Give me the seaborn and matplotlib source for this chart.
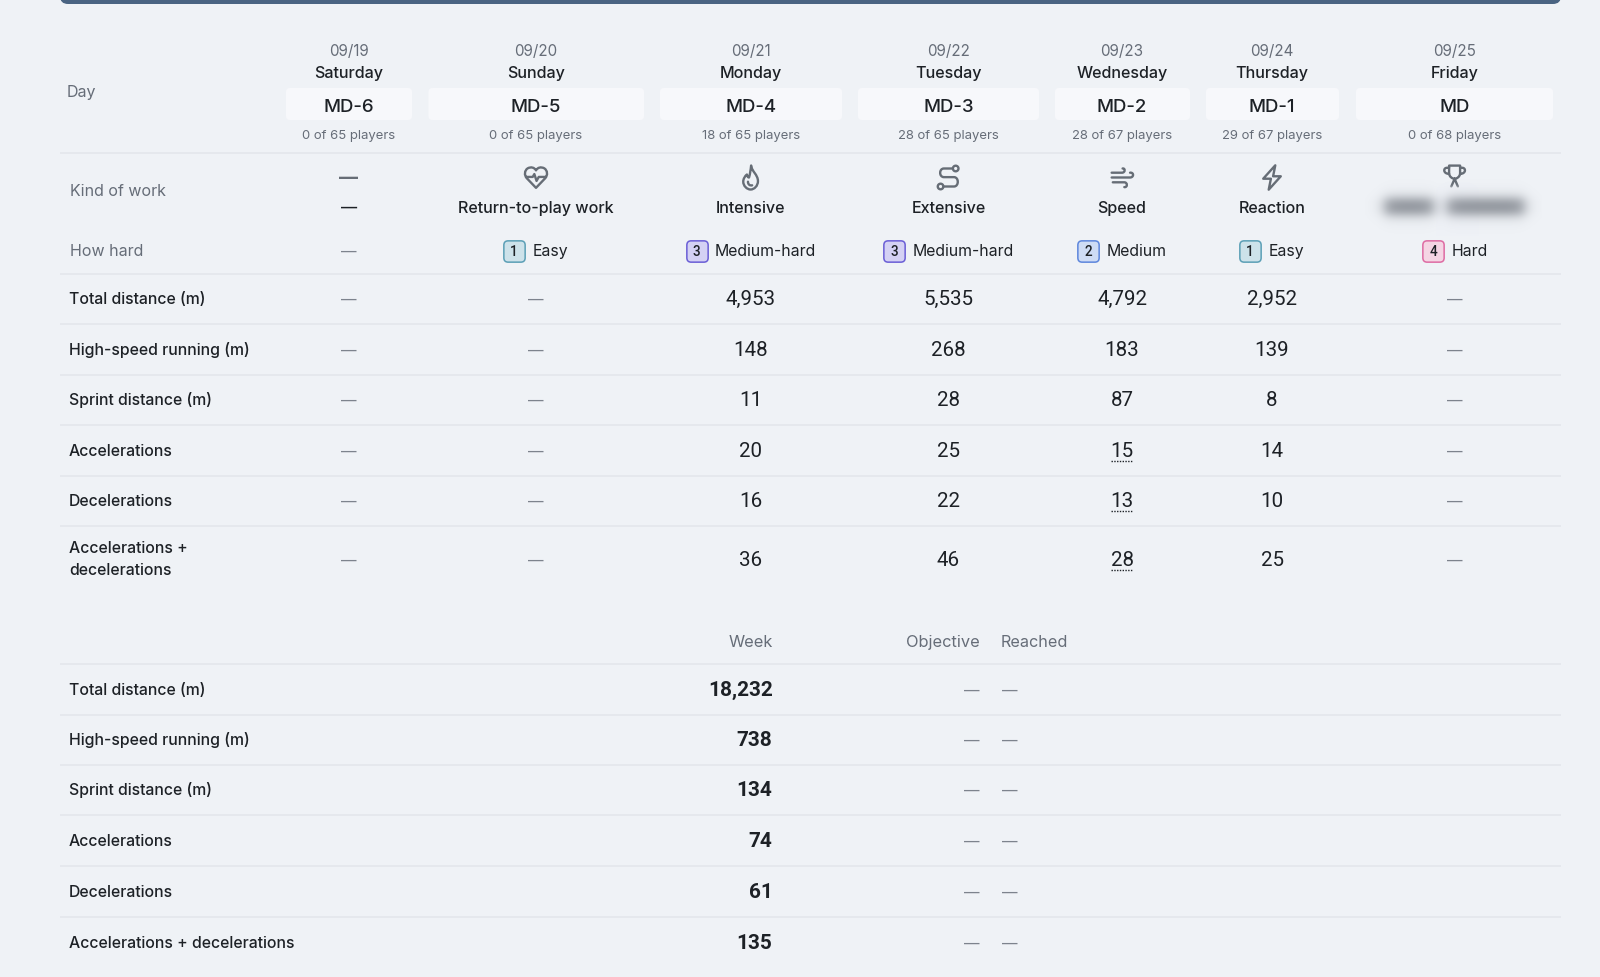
import numpy as np
import matplotlib.pyplot as plt
import seaborn as sns
from matplotlib.patches import FancyBboxPatch, PathPatch, Circle
from matplotlib.path import Path
from matplotlib.transforms import Affine2D

# Data
dates = ['09/19', '09/20', '09/21', '09/22', '09/23', '09/24', '09/25']
weekdays = ['Saturday', 'Sunday', 'Monday', 'Tuesday', 'Wednesday', 'Thursday', 'Friday']
md_labels = ['MD-6', 'MD-5', 'MD-4', 'MD-3', 'MD-2', 'MD-1', 'MD']
players_in = [0, 0, 18, 28, 28, 29, 0]
players_all = [65, 65, 65, 65, 67, 67, 68]
work_kinds = ['—', 'Return-to-play work', 'Intensive', 'Extensive', 'Speed', 'Reaction', None]
hard_levels = [None, 1, 3, 3, 2, 1, 4]
hard_names = ['—', 'Easy', 'Medium-hard', 'Medium-hard', 'Medium', 'Easy', 'Hard']

metric_names = ['Total distance (m)', 'High-speed running (m)', 'Sprint distance (m)',
                'Accelerations', 'Decelerations', 'Accelerations +\ndecelerations']
total_distance = [None, None, 4953, 5535, 4792, 2952, None]
high_speed = [None, None, 148, 268, 183, 139, None]
sprint_distance = [None, None, 11, 28, 87, 8, None]
accelerations = [None, None, 20, 25, 15, 14, None]
decelerations = [None, None, 16, 22, 13, 10, None]
acc_dec = [None, None, 36, 46, 28, 25, None]

week_names = ['Total distance (m)', 'High-speed running (m)', 'Sprint distance (m)',
              'Accelerations', 'Decelerations', 'Accelerations + decelerations']
week_totals = [18232, 738, 134, 74, 61, 135]

# Layout, in pixels of the screenshot
BG = '#eff2f6'
RULE = '#e3e6eb'
DARK = '#1d2126'
GREY = '#666d78'
DASH = '#7d838d'
ICON = '#666d76'
NUM_FONT = ['Roboto', 'Inter', 'DejaVu Sans']
col_x = [348.6, 536, 750.6, 948.4, 1122, 1272, 1454.6]
pills = [(286, 412), (428.5, 644), (660, 842), (858, 1039), (1055, 1190), (1206, 1339), (1356, 1553)]
metric_y = [298, 349, 399, 450, 500, 559]
week_y = [689, 739.5, 789.5, 840, 891, 942]
rules_y = [152.5, 273.5, 323.5, 374.5, 424.5, 475.5, 525.5, 663.5, 714.5, 764.5, 815, 866, 916.5]
badge_x = [None, 514, 696.5, 894, 1088, 1250, 1433]
badge_text_x = [None, 533, 715, 913, 1107, 1269, 1452]
level_fill = {1: '#cde2ea', 2: '#cedcf5', 3: '#d4d1f4', 4: '#f5d5e4'}
level_edge = {1: '#5b9fb6', 2: '#5d86dc', 3: '#6a5ed6', 4: '#de6ba3'}

sns.set_theme(style='white')
plt.rcParams['font.family'] = ['Inter', 'DejaVu Sans']

fig, ax = plt.subplots(figsize=(16, 9.77), dpi=100)
fig.patch.set_facecolor(BG)
ax.set_position([0, 0, 1, 1])
ax.set_facecolor(BG)
ax.set_xlim(0, 1600)
ax.set_ylim(977, 0)
ax.set_xticks([])
ax.set_yticks([])
sns.despine(ax=ax, left=True, bottom=True)


def label(x, y, s, size, color=DARK, ha='center', weight='normal', **kw):
    # size is in pixels, y is the middle of the capital letters
    return ax.text(x, y + size * 0.36, s, fontsize=size * 0.72, color=color, ha=ha, va='baseline',
                   fontweight=weight, **kw)


def svg_path(spec):
    verts, codes = [], []
    parts = spec.split()
    i = 0
    while i < len(parts):
        cmd = parts[i]
        i += 1
        if cmd == 'Z':
            verts.append(verts[-1])
            codes.append(Path.CLOSEPOLY)
        elif cmd in 'ML':
            verts.append((float(parts[i]), float(parts[i + 1])))
            codes.append(Path.MOVETO if cmd == 'M' else Path.LINETO)
            i += 2
        else:
            for k in range(3):
                verts.append((float(parts[i]), float(parts[i + 1])))
                codes.append(Path.CURVE4)
                i += 2
    return Path(verts, codes)


def icon(cx, cy, spec, sx=1.05, sy=1.05, circles=()):
    tr = Affine2D().translate(-12, -12).scale(sx, sy).translate(cx, cy)
    ax.add_patch(PathPatch(tr.transform_path(svg_path(spec)), fill=False, ec=ICON, lw=1.7,
                           capstyle='round', joinstyle='round', zorder=3))
    for (a, b, r) in circles:
        ax.add_patch(Circle(tr.transform_point((a, b)), r * sx, fill=False, ec=ICON, lw=1.7, zorder=3))


def rounded_square():
    box = FancyBboxPatch((-0.5, -0.5), 1, 1, boxstyle='round,pad=0,rounding_size=0.2')
    return box.get_path()


# Top bar
ax.add_patch(FancyBboxPatch((60, -20), 1501, 24, boxstyle='round,pad=0,rounding_size=8',
                            fc='#4a6482', ec='none'))

# Rules
ax.hlines(rules_y, 60, 1561, color=RULE, lw=1.1)

# Header block
label(67, 91, 'Day', 16, GREY, ha='left')
for i, x in enumerate(col_x):
    label(x, 51, dates[i], 15.2, GREY)
    label(x, 72, weekdays[i], 16.1, DARK, weight='medium')
    a, b = pills[i]
    ax.add_patch(FancyBboxPatch((a, 88), b - a, 32, boxstyle='round,pad=0,rounding_size=4',
                                fc='#f7f8fb', ec='none'))
    label(x, 105, md_labels[i], 18.7, DARK, weight='medium')
    label(x, 134, f'{players_in[i]} of {players_all[i]} players', 13.1, GREY)

# Kind of work
label(69.5, 190, 'Kind of work', 16, GREY, ha='left')
label(69.5, 250.5, 'How hard', 16, GREY, ha='left')
for i, x in enumerate(col_x):
    if work_kinds[i] is not None:
        label(x, 207, work_kinds[i], 16.1, DARK, weight='medium')

label(col_x[0], 177, '—', 19, ICON, weight='bold')
icon(col_x[1], 177.5,
     'M 12 21 L 3.8 12.8 C 1 10 1.5 5.8 4.5 4 C 7.5 2.5 10.5 3.2 12 5.8 C 13.5 3.2 16.5 2.5 19.5 4 '
     'C 22.5 5.8 23 10 20.2 12.8 Z M 3 11.5 L 9 11.5 L 10.5 9 L 12.5 15 L 14.5 11.5 L 21 11.5',
     sx=1.1, sy=1.15)
icon(col_x[2], 177.5,
     'M 12.5 2 C 13 7 19 9.5 19 15 C 19 19 15.5 22 12 22 C 8.5 22 5 19 5 15.5 '
     'C 5 13 6.5 11 8.5 9.5 C 8.8 11 9.5 12 10.5 12 C 11.5 9 12 6 12.5 2 Z '
     'M 9.5 15.5 C 9.5 18 11.5 19 13.5 18.5', sx=1.05, sy=1.2)
icon(col_x[3], 177.5,
     'M 16 4.5 L 8 4.5 C 3.5 4.5 3.5 11.7 8 11.7 L 17 11.7 C 21.5 11.7 21.5 19.5 17 19.5 L 7.5 19.5',
     sx=1.12, sy=1.2, circles=[(18.5, 4.5, 2.5), (5, 19.5, 2.5)])
icon(col_x[4], 177.5,
     'M 3 8 L 12 8 C 15 8 15 4 12.5 4.5 M 3 12 L 19 12 C 22.5 12 22.5 7.5 19 8 '
     'M 4 16 L 14 16 C 17 16 17 20.5 14 20', sx=1.15, sy=1.2)
icon(col_x[5], 177.5, 'M 15 2 L 4 13 L 11 13 L 9 22 L 20 11 L 13 11 Z', sx=1.1, sy=1.22)
icon(col_x[6], 175.5,
     'M 7 3 L 17 3 L 17 10 C 17 13 14 15 12 15 C 10 15 7 13 7 10 Z M 7 5 L 5 5 C 1.5 5 1.5 10.5 7 10.5 '
     'M 17 5 L 19 5 C 22.5 5 22.5 10.5 17 10.5 M 12 15 L 9 22 M 12 15 L 15 22', sx=1.1, sy=1.1)

# Blurred label in the last column
grid_x, grid_y = np.meshgrid(np.arange(1365, 1542), np.arange(178, 236))
smooth = lambda v, a, b, w: 0.5 * (np.tanh((v - a) / w) - np.tanh((v - b) / w))
band = smooth(grid_y, 198, 214, 7)
blob = (smooth(grid_x, 1384, 1433, 8) + smooth(grid_x, 1447, 1524, 8)) * band
blur = np.zeros(grid_x.shape + (4,))
blur[..., :3] = np.array([0.52, 0.54, 0.57])
blur[..., 3] = blob
veil = np.zeros(grid_x.shape + (4,))
veil[..., :3] = np.array([0.937, 0.949, 0.965])
veil[..., 3] = smooth(grid_y, 187, 240, 2) * smooth(grid_x, 1444, 1470, 3)
ax.imshow(veil, extent=(1365, 1542, 236, 178), aspect='auto', zorder=4, interpolation='bilinear')
ax.imshow(blur, extent=(1365, 1542, 236, 178), aspect='auto', zorder=5, interpolation='bilinear')
ax.set_xlim(0, 1600)
ax.set_ylim(977, 0)

# How hard, badges drawn from the levels
marker = rounded_square()
for level in sorted(set(v for v in hard_levels if v is not None)):
    xs = [badge_x[i] for i, v in enumerate(hard_levels) if v == level]
    sns.scatterplot(x=xs, y=[251] * len(xs), ax=ax, marker=marker, s=235, color=level_fill[level],
                    edgecolor=level_edge[level], linewidth=1.1, legend=False, zorder=3)
for i, x in enumerate(col_x):
    if hard_levels[i] is None:
        label(x, 251.5, hard_names[i], 15.5, DASH)
    else:
        label(badge_x[i], 251, str(hard_levels[i]), 13.5, DARK, weight='medium', zorder=6, family=NUM_FONT)
        label(badge_text_x[i], 250.5, hard_names[i], 15.8, DARK, ha='left')

# Daily metrics
metric_rows = [total_distance, high_speed, sprint_distance, accelerations, decelerations, acc_dec]
underlined = {(3, 4), (4, 4), (5, 4)}
for r, row in enumerate(metric_rows):
    y = metric_y[r]
    # the two-line label is anchored on its last line
    name_y = y + 10.5 if '\n' in metric_names[r] else y
    label(69, name_y, metric_names[r], 15.8, DARK, ha='left', weight='medium', linespacing=1.63)
    for i, x in enumerate(col_x):
        if row[i] is None:
            label(x, y + 1, '—', 15.5, DASH)
        else:
            label(x, y - 0.5, f'{row[i]:,}', 20.5, DARK, family=NUM_FONT)
        if (r, i) in underlined:
            ax.plot([x - 11, x + 11], [y + 11, y + 11], color=DARK, lw=1, ls=(0, (1, 1)))

# Week block
label(772.5, 641, 'Week', 16.4, GREY, ha='right')
label(979.5, 641, 'Objective', 16.4, GREY, ha='right')
label(1001, 641, 'Reached', 16.2, GREY, ha='left')
for r, y in enumerate(week_y):
    label(69, y, week_names[r], 15.8, DARK, ha='left', weight='medium')
    label(772.5, y - 0.5, f'{week_totals[r]:,}', 20.8, DARK, ha='right', weight='bold', family=NUM_FONT)
    label(979.5, y + 1, '—', 15.5, DASH, ha='right')
    label(1002, y + 1, '—', 15.5, DASH, ha='left')

fig.savefig('out.png', dpi=100, facecolor=BG)
